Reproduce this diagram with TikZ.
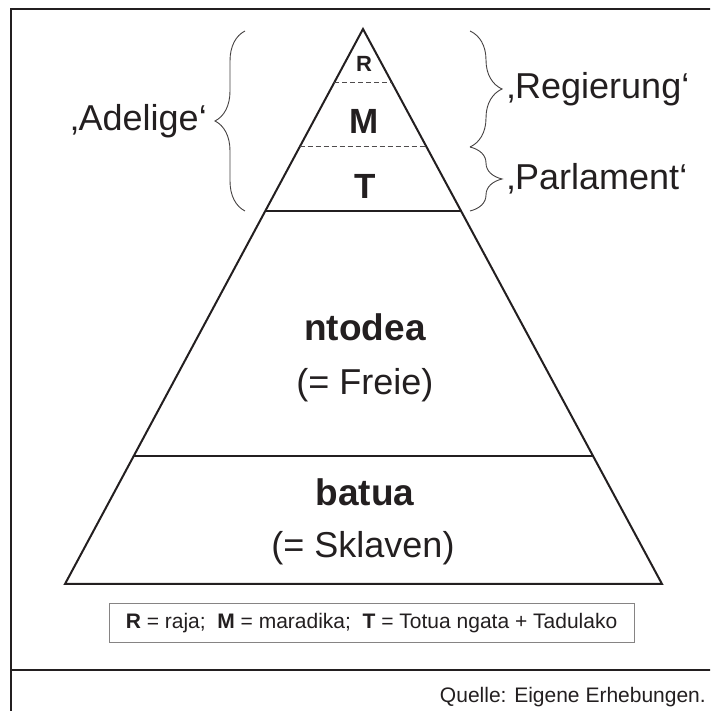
\documentclass[tikz,border=0pt]{standalone}
\usepackage{fontspec}
\setmainfont{Liberation Sans}
\usetikzlibrary{calc}
\usetikzlibrary{positioning}
\usetikzlibrary{decorations.pathreplacing}
\definecolor{ink}{HTML}{231F20}

\begin{document}
\begin{tikzpicture}[x=1pt, y=1pt,
        every node/.style={text=ink, inner sep=0pt},
        tier/.style={draw=ink, line width=2pt},
        cut/.style={draw=ink!80, line width=1pt, dash pattern=on 5pt off 3pt},
        grp/.style={draw=ink!85, line width=0.9pt, decorate},
        big/.style={font=\fontsize{36}{40}\selectfont},
        bigb/.style={font=\fontsize{37}{42}\selectfont\bfseries},
        small/.style={font=\fontsize{21}{24}\selectfont}]
            \clip (0,0) rectangle (710,711);

            % Frame
            \draw[ink, line width=2.6pt] (11,-20) -- (11,702) -- (730,702);
            \draw[ink, line width=2.6pt] (11,41) -- (730,41);

            % Pyramid
            \coordinate (top) at (363,682);
            \coordinate (bl) at (65,127);
            \coordinate (br) at (662,127);
            \draw[tier, line join=miter] (bl) -- (top) -- (br) -- cycle;

            % Layers
            \draw[cut] ($(top)!0.0973!(bl)$) -- ($(top)!0.0973!(br)$);
            \draw[cut] ($(top)!0.2126!(bl)$) -- ($(top)!0.2126!(br)$);
            \draw[tier] ($(top)!0.3279!(bl)$) -- ($(top)!0.3279!(br)$);
            \draw[tier] ($(top)!0.7694!(bl)$) -- ($(top)!0.7694!(br)$);

            % Layer names
            \node[font=\fontsize{22}{26}\selectfont\bfseries] (raja) at (364,647) {R};
            \node[font=\fontsize{35}{40}\selectfont\bfseries] (mara) at (364,590) {M};
            \node[font=\fontsize{35}{40}\selectfont\bfseries] (totua) at (365,525) {T};
            \node[bigb] (ntodea) at (365,384) {ntodea};
            \node[big] (freie) at (365,326) {(= Freie)};
            \node[bigb] (batua) at (365,219) {batua};
            \node[big] (sklaven) at (363,163) {(= Sklaven)};

            % Braces
            \draw[grp, decoration={brace, amplitude=30pt}] (245,500) -- (245,680)
                coordinate[pos=0.5] (adel);
            \draw[grp, decoration={brace, amplitude=32pt}] (470,680) -- (470,564)
                coordinate[pos=0.5] (regi);
            \draw[grp, decoration={brace, amplitude=32pt}] (470,564) -- (470,500)
                coordinate[pos=0.5] (parl);
            \node[big, anchor=east] (adelige) at ([xshift=-38pt]adel) {‚Adelige‘};
            \node[big, anchor=west] (regierung) at ([xshift=37pt]regi) {‚Regierung‘};
            \node[big, anchor=west] (parlament) at ([xshift=37pt]parl) {‚Parlament‘};

            % Legend
            \node[small, draw=ink!55, line width=1pt, minimum width=525pt, minimum height=39pt]
                (legend) at (371.5,87.5)
                {\textbf{R} = raja;\ \ \textbf{M} = maradika;\ \ \textbf{T} = Totua ngata + Tadulako};

            % Source
            \node[small, anchor=base east] (quelle) at (706,9) {Quelle: Eigene Erhebungen.};

        \end{tikzpicture}
\end{document}
